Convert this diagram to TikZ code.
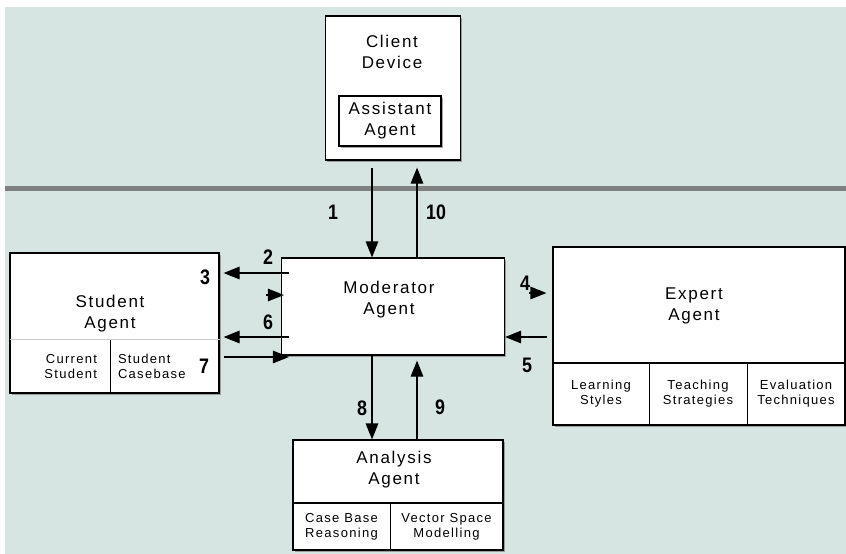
\documentclass[tikz,border=0pt]{standalone}
\usepackage{fontspec}
\setmainfont{Liberation Sans}
\newfontfamily\boxfont[LetterSpace=10]{Liberation Sans}
\newfontfamily\numfont[FakeStretch=0.85]{Liberation Sans Bold}
\usetikzlibrary{arrows.meta}
\usetikzlibrary{calc}
\usetikzlibrary{shadows}
\definecolor{panel}{HTML}{D6E5E1}
\definecolor{rulegray}{HTML}{808080}

\begin{document}
\begin{tikzpicture}[x=1pt,y=-1pt,
  agent/.style={draw,fill=white,line width=1.2pt,inner sep=0pt,
    drop shadow={shadow xshift=1.5pt,shadow yshift=-1.5pt,fill=gray,opacity=.7}},
  part/.style={draw,line width=1pt,inner sep=0pt,align=center,
    font=\boxfont\fontsize{13}{15}\selectfont},
  title/.style={align=center,font=\boxfont\fontsize{17}{21}\selectfont},
  num/.style={font=\numfont\fontsize{21}{21}\selectfont},
  flow/.style={line width=1.2pt,-{Triangle[length=16pt,width=12.5pt]}}]
\useasboundingbox (0,0) rectangle (846,554);
\fill[panel] (5,7) rectangle (846,554);
\draw[rulegray,line width=5pt] (5,188) -- (846,188);

\node(CD) [agent,minimum width=135pt,minimum height=144pt] at (393,88) {};
\node [title] at (392,52) {Client\\Device};
\node(AA) [agent,title,minimum width=102pt,minimum height=50pt] at (390,121) {Assistant\\Agent};

\node(MA) [agent,minimum width=223pt,minimum height=97pt] at (393,306.5) {};
\node [title] at (389,300) {Moderator\\Agent};

\node(SA) [agent,minimum width=209pt,minimum height=140pt] at (114.5,323) {};
\node [title] at (110,314) {Student\\Agent};
\node(SC) [part,draw=none,minimum width=100pt,minimum height=53pt,text width=74pt,align=right] at (60,366.5) {Current\\Student};
\node(SB) [part,draw=none,minimum width=109pt,minimum height=53pt,text width=93pt,align=left] at (164.5,366.5) {Student\\Casebase};
\draw[gray!40,line width=1pt] (SC.north west) -- (SB.north east);
\draw[line width=1pt] (SC.north east) -- (SC.south east);

\node(EA) [agent,minimum width=292pt,minimum height=178pt] at (699,336) {};
\node [title] at (694,306) {Expert\\Agent};
\node(EL) [part,minimum width=96pt,minimum height=62pt] at (601,394) {Learning\\Styles};
\node(ET) [part,minimum width=98pt,minimum height=62pt] at (698,394) {Teaching\\Strategies};
\node(EE) [part,minimum width=98pt,minimum height=62pt] at (796,394) {Evaluation\\Techniques};
\draw[line width=2pt] (EL.north west) -- (EE.north east);

\node(AN) [agent,minimum width=210pt,minimum height=110pt] at (398,495) {};
\node [title] at (394,470) {Analysis\\Agent};
\node(AC) [part,minimum width=97pt,minimum height=47pt] at (341.5,526.5) {Case Base\\Reasoning};
\node(AV) [part,minimum width=113pt,minimum height=47pt] at (446.5,526.5) {Vector Space\\Modelling};
\draw[line width=1.5pt] (AC.north west) -- (AV.north east);

\draw[flow] ($(CD.south)+(-21,7)$) -- ($(CD.south |- MA.north)+(-21,0)$);
\draw[flow] ($(MA.north)+(24,0)$) -- ($(MA.north |- CD.south)+(24,7)$);
\draw[flow] ($(MA.west)+(8,-33.5)$) -- ($(SA.east |- MA.west)+(4,-33.5)$);
\draw[flow] ($(MA.west)+(-15,-11.5)$) -- ($(MA.west)+(3,-11.5)$);
\draw[flow] ($(MA.west)+(8,30.5)$) -- ($(SA.east |- MA.west)+(4,30.5)$);
\draw[flow] ($(SA.east |- MA.west)+(4,50.5)$) -- ($(MA.west)+(8,50.5)$);
\draw[flow] ($(EA.west |- MA.east)+(-23,-13.5)$) -- ($(EA.west |- MA.east)+(-6,-13.5)$);
\draw[flow] ($(EA.west |- MA.east)+(-5,30.5)$) -- ($(MA.east)+(0,30.5)$);
\draw[flow] ($(MA.south)+(-21,0)$) -- ($(MA.south |- AN.north)+(-21,0)$);
\draw[flow] ($(MA.south |- AN.north)+(24,0)$) -- ($(MA.south)+(24,5)$);

\node [num] at (333,212) {1};
\node [num] at (436,212) {10};
\node [num] at (268,257) {2};
\node [num] at (205,277) {3};
\node [num] at (525,283) {4};
\node [num] at (527,365) {5};
\node [num] at (268,322) {6};
\node [num] at (204,366) {7};
\node [num] at (362,408) {8};
\node [num] at (440,407) {9};
\end{tikzpicture}
\end{document}
